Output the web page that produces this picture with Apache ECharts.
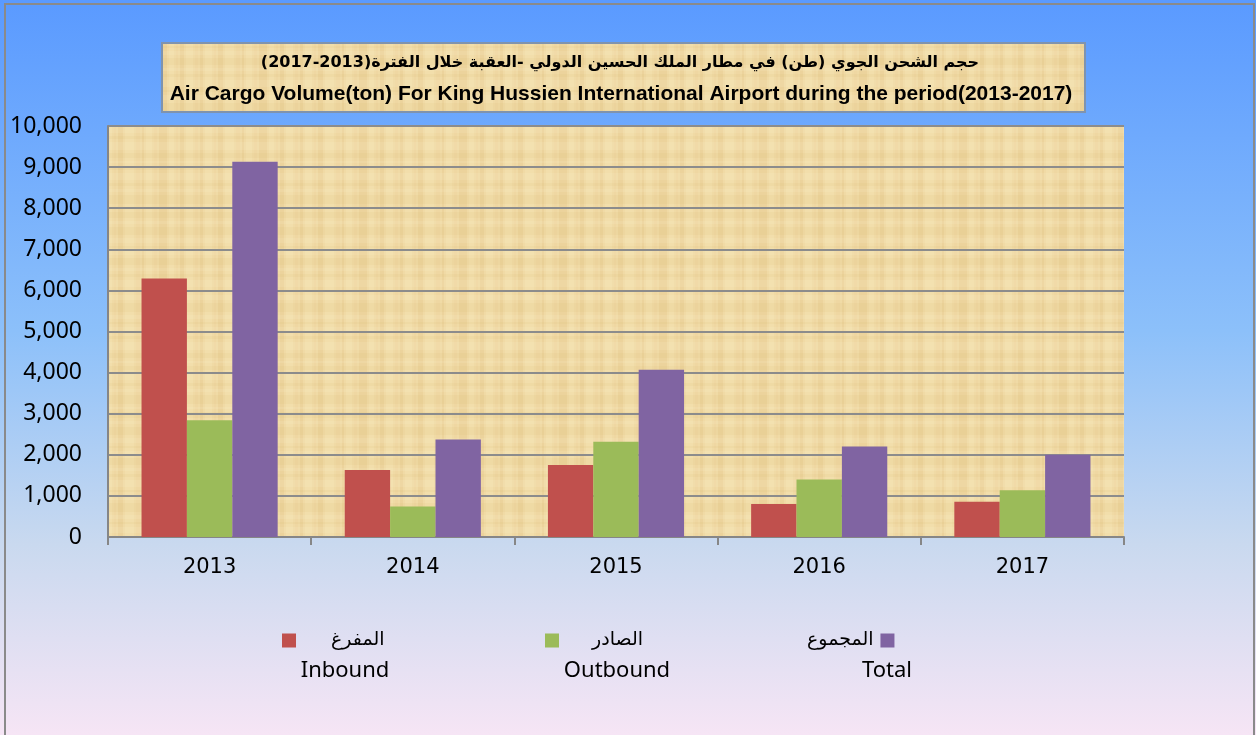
<!DOCTYPE html>
<html>
<head>
<meta charset="utf-8">
<script src="https://cdn.jsdelivr.net/npm/echarts@6/dist/echarts.min.js"></script>
<style>
  html, body { margin: 0; padding: 0; background: #ffffff; }
  #chart { width: 1256px; height: 735px; }
</style>
</head>
<body>
<div id="chart"></div>
<script>
var years = ['2013', '2014', '2015', '2016', '2017'];
var inbound = [6290, 1630, 1750, 800, 860];
var outbound = [2840, 740, 2320, 1400, 1140];
var total = [9130, 2370, 4070, 2200, 2000];

var namesAr = ['المفرغ', 'الصادر', 'المجموع'];
var namesEn = ['Inbound', 'Outbound', 'Total'];
var colors = ['#C0504D', '#9BBB59', '#8064A2'];

// papyrus-like texture, fixed stripes only
function papyrus() {
  var c = document.createElement('canvas');
  c.width = 300; c.height = 200;
  var g = c.getContext('2d');
  g.fillStyle = '#F0DAA5';
  g.fillRect(0, 0, 300, 200);
  var widths = [3, 7, 2, 5, 9, 4, 2, 6, 3, 8, 5, 2, 4, 7, 3];
  var x = 0, k = 0;
  while (x < 300) {
    var w = widths[k % widths.length];
    g.fillStyle = (k % 3 === 0) ? 'rgba(205,170,100,0.13)' : (k % 3 === 1 ? 'rgba(255,242,205,0.16)' : 'rgba(225,195,125,0.08)');
    g.fillRect(x, 0, w, 200);
    x += w + 2;
    k++;
  }
  var y = 0; k = 0;
  while (y < 200) {
    var h = widths[(k + 5) % widths.length];
    g.fillStyle = (k % 2 === 0) ? 'rgba(210,175,105,0.09)' : 'rgba(255,245,215,0.12)';
    g.fillRect(0, y, 300, h);
    y += h + 3;
    k++;
  }
  return c;
}
var tex = papyrus();

var chart = echarts.init(document.getElementById('chart'), null, { renderer: 'canvas' });

var legends = [
  { left: 277, align: 'left', pad: [0, 0, 0, 30] },
  { left: 540, align: 'left', pad: [0, 0, 0, 28] },
  { left: 802, align: 'right', pad: [0, 2, 0, 0] }
].map(function(l, i) {
  return {
    left: l.left,
    top: 626,
    align: l.align,
    data: [namesAr[i]],
    icon: 'rect',
    itemWidth: 14,
    itemHeight: 14,
    itemGap: 0,
    selectedMode: false,
    textStyle: {
      fontFamily: 'DejaVu Sans',
      fontSize: 19,
      color: '#000',
      padding: l.pad
    }
  };
});

var englishLabels = [345, 617, 887].map(function(x, i) {
  return {
    type: 'text',
    x: x,
    y: 671,
    style: {
      text: namesEn[i],
      fontFamily: 'Noto Sans',
      fontSize: 22,
      fill: '#000',
      align: 'center',
      verticalAlign: 'middle'
    }
  };
});

var series = [inbound, outbound, total].map(function(d, i) {
  return {
    name: namesAr[i],
    type: 'bar',
    data: d,
    barGap: '0%',
    barCategoryGap: '33%',
    itemStyle: { color: colors[i] }
  };
});

chart.setOption({
  animation: false,
  backgroundColor: {
    type: 'linear', x: 0, y: 0, x2: 0, y2: 1,
    colorStops: [
      { offset: 0, color: '#5A9AFF' },
      { offset: 0.45, color: '#8CC0FA' },
      { offset: 0.74, color: '#C9D9EF' },
      { offset: 1, color: '#F6E5F5' }
    ]
  },
  legend: legends,
  grid: {
    left: 108, right: 132, top: 126, bottom: 198,
    show: true,
    backgroundColor: { image: tex, repeat: 'repeat' },
    borderWidth: 0
  },
  xAxis: {
    type: 'category',
    data: years,
    axisLine: { lineStyle: { color: '#868686', width: 2 } },
    axisTick: { show: true, length: 8, lineStyle: { color: '#868686', width: 2 } },
    axisLabel: { color: '#000', fontSize: 21, fontFamily: 'DejaVu Sans', margin: 20 }
  },
  yAxis: {
    type: 'value',
    min: 0,
    max: 10000,
    interval: 1000,
    axisLine: { show: true, lineStyle: { color: '#868686', width: 2 } },
    axisTick: { show: false },
    splitLine: { lineStyle: { color: '#8C8C8C', width: 2 } },
    axisLabel: {
      color: '#000', fontSize: 23, fontFamily: 'Noto Sans', margin: 26,
      formatter: function(v) { return v.toLocaleString('en-US'); }
    }
  },
  graphic: [
    {
      type: 'rect',
      shape: { x: 5, y: 4, width: 1249, height: 736 },
      style: { fill: 'none', stroke: '#8A8A8A', lineWidth: 2 },
      silent: true
    },
    {
      type: 'rect',
      shape: { x: 162, y: 43, width: 923, height: 69 },
      style: { fill: { image: tex, repeat: 'repeat' }, stroke: '#7F93AE', lineWidth: 2 },
      silent: true
    },
    {
      type: 'text',
      x: 620, y: 63,
      style: {
        text: 'حجم الشحن الجوي (طن) في مطار الملك الحسين الدولي -العقبة خلال الفترة(2013-2017)',
        fontFamily: 'DejaVu Sans', fontWeight: 'bold', fontSize: 16,
        fill: '#000', align: 'center', verticalAlign: 'middle'
      }
    },
    {
      type: 'text',
      x: 621, y: 94,
      style: {
        text: 'Air Cargo Volume(ton) For King Hussien International Airport during the period(2013-2017)',
        fontFamily: 'Liberation Sans', fontWeight: 'bold', fontSize: 21,
        fill: '#000', align: 'center', verticalAlign: 'middle'
      }
    }
  ].concat(englishLabels),
  series: series
});
</script>
</body>
</html>
